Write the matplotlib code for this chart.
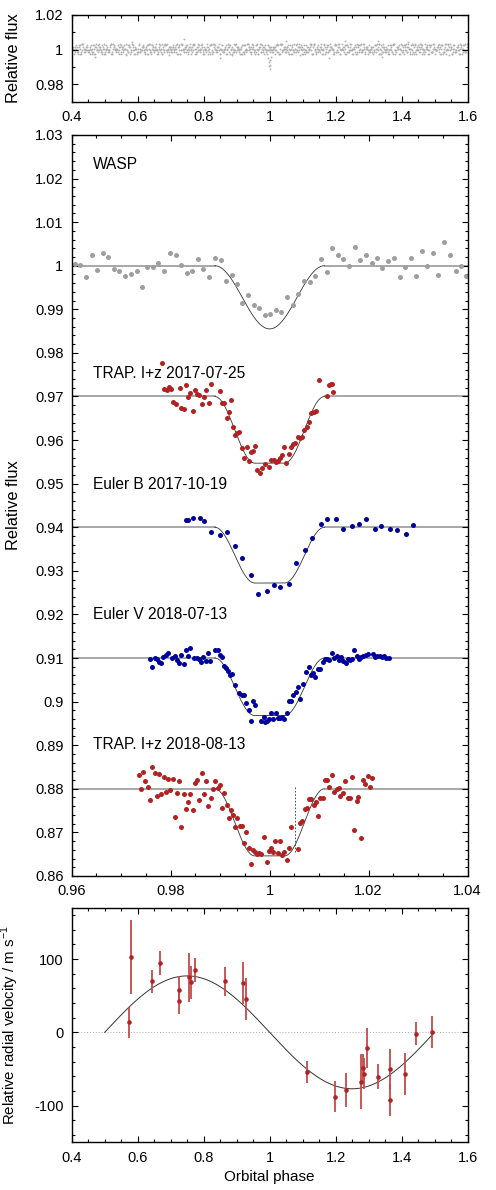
import matplotlib
matplotlib.use("Agg")
import matplotlib.pyplot as plt
import numpy as np
from matplotlib.ticker import MultipleLocator, FuncFormatter

# ---- top panel: full WASP light curve, flux coded as digits (1 + (d-4.5)*0.00095)
wasp_full_a = ("453625463742536475263546285436745136472553462574364528364751"
               "364527453626547384526345728364543726514365273546284356372546"
               "536472845362473546127435628453645273654836254736452736548364"
               "452736548363547246583746253847563452738546372548163547265438")
wasp_full_b = ("546372835446372546382547364528635472946335463728546437258346"
               "475362845736485263745462837465435267453864572384653725846374"
               "635482736545263748563465728364527364853746283574625384736254"
               "364758263452738465274638527364825374635247653827465346273845")
wasp_full_c = ("527463854637256483754638275463572463845273645283746254837465"
               "356842736458372645834627385462735482637452637485364728365473"
               "462735846372548364725364827354628374652738456273845627348563"
               "634582736452738462537465382746352864736548273654827364527384")
wasp_full_d = ("645372846354728364527348563742658374625384736452738465274836"
               "537264853742685374625837465382746537284635274863572846537246"
               "456372845637245836452738465273846534627385462738456273845627"
               "563748265374628357462835746253874652738465273846527364857362")
wasp_dip_phase = [0.9965, 0.9980, 0.9990, 1.0000, 1.0010, 1.0022, 1.0035]
wasp_dip_flux = [0.9950, 0.9930, 0.9905, 0.9890, 0.9912, 0.9938, 0.9958]
wasp_out_phase = [0.47, 0.74, 0.85, 1.05, 1.18, 1.23, 1.33, 1.34, 1.42]
wasp_out_flux = [0.9955, 1.0058, 0.9950, 1.0048, 0.9950, 1.0052, 1.0050, 0.9955, 1.0046]

# ---- middle panel: binned WASP
wasp_ph = [0.9606, 0.9617, 0.9628, 0.9640, 0.9651, 0.9663, 0.9674, 0.9685, 0.9696, 0.9708,
           0.9719, 0.9731, 0.9742, 0.9753, 0.9764, 0.9775, 0.9787, 0.9798, 0.9810, 0.9821,
           0.9832, 0.9843, 0.9855, 0.9866, 0.9878, 0.9889, 0.9901, 0.9911, 0.9923, 0.9934,
           0.9945, 0.9957, 0.9968, 0.9979, 0.9991, 1.0001, 1.0013, 1.0024, 1.0035, 1.0047,
           1.0058, 1.0069, 1.0081, 1.0092, 1.0104, 1.0115, 1.0126, 1.0138, 1.0149, 1.0161,
           1.0172, 1.0183, 1.0195, 1.0206, 1.0217, 1.0228, 1.0240, 1.0251, 1.0263, 1.0273,
           1.0285, 1.0296, 1.0308, 1.0319, 1.0330, 1.0341, 1.0353, 1.0364, 1.0376, 1.0387,
           1.0397]
wasp_fl = [1.0004, 1.0002, 0.9975, 1.0025, 0.9991, 1.0030, 1.0021, 0.9992, 0.9989, 0.9976,
           0.9982, 0.9988, 0.9952, 0.9996, 0.9998, 1.0006, 0.9989, 1.0030, 1.0024, 1.0002,
           0.9984, 0.9988, 1.0016, 0.9992, 0.9973, 1.0017, 1.0013, 0.9965, 0.9979, 0.9957,
           0.9914, 0.9933, 0.9909, 0.9904, 0.9886, 0.9890, 0.9898, 0.9893, 0.9929, 0.9911,
           0.9934, 0.9965, 0.9963, 0.9976, 1.0015, 0.9986, 1.0040, 1.0025, 1.0016, 0.9999,
           1.0044, 1.0012, 1.0024, 1.0007, 1.0018, 0.9994, 1.0010, 1.0018, 0.9974, 0.9997,
           1.0018, 0.9976, 1.0033, 1.0000, 1.0030, 0.9979, 1.0054, 1.0024, 0.9987, 1.0000,
           0.9976]

trap1_ph = [0.9782, 0.9787, 0.9792, 0.9796, 0.9800, 0.9804, 0.9811, 0.9818, 0.9821, 0.9826,
            0.9831, 0.9835, 0.9839, 0.9845, 0.9849, 0.9853, 0.9858, 0.9863, 0.9868, 0.9872,
            0.9877, 0.9881, 0.9899, 0.9903, 0.9908, 0.9913, 0.9917, 0.9922, 0.9926, 0.9931,
            0.9935, 0.9939, 0.9944, 0.9948, 0.9954, 0.9958, 0.9962, 0.9967, 0.9971, 0.9975,
            0.9981, 0.9985, 0.9990, 0.9998, 1.0003, 1.0008, 1.0013, 1.0017, 1.0021, 1.0025,
            1.0030, 1.0034, 1.0039, 1.0044, 1.0048, 1.0052, 1.0057, 1.0061, 1.0066, 1.0070,
            1.0075, 1.0079, 1.0084, 1.0089, 1.0093, 1.0099, 1.0116, 1.0121, 1.0124, 1.0126,
            1.0128]
trap1_fl = [0.9776, 0.9718, 0.9716, 0.9721, 0.9718, 0.9687, 0.9682, 0.9719, 0.9674, 0.9672,
            0.9726, 0.9699, 0.9708, 0.9666, 0.9715, 0.9705, 0.9704, 0.9682, 0.9699, 0.9714,
            0.9686, 0.9728, 0.9712, 0.9686, 0.9686, 0.9651, 0.9665, 0.9691, 0.9630, 0.9611,
            0.9616, 0.9618, 0.9581, 0.9559, 0.9584, 0.9553, 0.9573, 0.9575, 0.9587, 0.9531,
            0.9524, 0.9536, 0.9544, 0.9539, 0.9555, 0.9554, 0.9549, 0.9553, 0.9558, 0.9565,
            0.9585, 0.9547, 0.9568, 0.9583, 0.9590, 0.9594, 0.9608, 0.9605, 0.9607, 0.9623,
            0.9630, 0.9641, 0.9663, 0.9665, 0.9666, 0.9737, 0.9701, 0.9726, 0.9728, 0.9728,
            0.9711]

eulb_ph = [0.9831, 0.9835, 0.9845, 0.9859, 0.9868, 0.9881, 0.9899, 0.9913, 0.9931, 0.9944,
           0.9962, 0.9976, 0.9994, 1.0008, 1.0021, 1.0039, 1.0053, 1.0071, 1.0085, 1.0103,
           1.0116, 1.0135, 1.0148, 1.0167, 1.0180, 1.0194, 1.0212, 1.0226, 1.0243, 1.0257,
           1.0275, 1.0289]
eulb_fl = [0.9417, 0.9416, 0.9421, 0.9422, 0.9415, 0.9389, 0.9383, 0.9390, 0.9357, 0.9329,
           0.9291, 0.9246, 0.9253, 0.9268, 0.9263, 0.9270, 0.9317, 0.9347, 0.9376, 0.9408,
           0.9419, 0.9418, 0.9396, 0.9402, 0.9407, 0.9420, 0.9397, 0.9402, 0.9395, 0.9394,
           0.9384, 0.9405]

eulv_ph = [0.97583, 0.97631, 0.97685, 0.97732, 0.97772, 0.97813, 0.97853, 0.97900, 0.97947, 0.98035,
           0.98082, 0.98123, 0.98170, 0.98217, 0.98264, 0.98312, 0.98359, 0.98399, 0.98480, 0.98527,
           0.98574, 0.98615, 0.98662, 0.98709, 0.98756, 0.98804, 0.98891, 0.98952, 0.99006, 0.99046,
           0.99080, 0.99121, 0.99161, 0.99201, 0.99249, 0.99309, 0.99383, 0.99437, 0.99491, 0.99525,
           0.99579, 0.99626, 0.99660, 0.99714, 0.99822, 0.99882, 0.99909, 0.99950, 0.99997, 1.00031,
           1.00078, 1.00125, 1.00165, 1.00213, 1.00253, 1.00300, 1.00347, 1.00388, 1.00435, 1.00482,
           1.00529, 1.00570, 1.00617, 1.00671, 1.00745, 1.00786, 1.00833, 1.00880, 1.00920, 1.00974,
           1.01021, 1.01069, 1.01116, 1.01163, 1.01210, 1.01257, 1.01305, 1.01358, 1.01406, 1.01439,
           1.01487, 1.01534, 1.01581, 1.01628, 1.01675, 1.01709, 1.01756, 1.01797, 1.01844, 1.01891,
           1.01938, 1.01992, 1.02080, 1.02127, 1.02174, 1.02221, 1.02268, 1.02309, 1.02356, 1.02403]
eulv_fl = [0.90977, 0.90801, 0.90992, 0.90985, 0.90908, 0.90878, 0.91015, 0.91061, 0.91107, 0.90992,
           0.91046, 0.90954, 0.90893, 0.91069, 0.90870, 0.91176, 0.91046, 0.91229, 0.91000, 0.91000,
           0.90977, 0.90916, 0.91031, 0.90931, 0.91107, 0.90939, 0.91191, 0.91191, 0.91061, 0.91015,
           0.90816, 0.90771, 0.90709, 0.90618, 0.90633, 0.90381, 0.90197, 0.90159, 0.90159, 0.89960,
           0.89807, 0.89562, 0.90006, 0.89922, 0.89555, 0.89654, 0.89524, 0.89547, 0.89593, 0.89731,
           0.89601, 0.89731, 0.89616, 0.89616, 0.89647, 0.89593, 0.89731, 0.90006, 0.90021, 0.90159,
           0.90220, 0.90342, 0.90067, 0.90411, 0.90679, 0.90801, 0.90602, 0.90648, 0.90572, 0.90740,
           0.90755, 0.90908, 0.90969, 0.90969, 0.90962, 0.91107, 0.91008, 0.91046, 0.90962, 0.91015,
           0.90931, 0.90893, 0.90969, 0.90954, 0.90977, 0.91191, 0.91046, 0.90969, 0.91031, 0.91046,
           0.91077, 0.91100, 0.91084, 0.91031, 0.91046, 0.91038, 0.91015, 0.91046, 0.91000, 0.91008]

trap2_ph = [0.97361, 0.97401, 0.97449, 0.97489, 0.97543, 0.97583, 0.97631, 0.97678, 0.97725, 0.97765,
            0.97813, 0.97860, 0.97907, 0.97947, 0.97995, 0.98042, 0.98082, 0.98129, 0.98177, 0.98217,
            0.98264, 0.98311, 0.98359, 0.98399, 0.98446, 0.98493, 0.98541, 0.98581, 0.98628, 0.98675,
            0.98723, 0.98763, 0.98810, 0.98857, 0.98905, 0.98952, 0.98992, 0.99039, 0.99080, 0.99134,
            0.99174, 0.99228, 0.99269, 0.99309, 0.99349, 0.99410, 0.99444, 0.99491, 0.99531, 0.99579,
            0.99626, 0.99666, 0.99707, 0.99740, 0.99781, 0.99828, 0.99896, 0.99943, 0.99983, 1.00024,
            1.00078, 1.00118, 1.00165, 1.00213, 1.00253, 1.00293, 1.00347, 1.00388, 1.00435, 1.00583,
            1.00617, 1.00657, 1.00705, 1.00752, 1.00799, 1.00839, 1.00887, 1.00934, 1.00981, 1.01028,
            1.01075, 1.01122, 1.01163, 1.01210, 1.01251, 1.01298, 1.01352, 1.01399, 1.01426, 1.01473,
            1.01527, 1.01574, 1.01628, 1.01668, 1.01709, 1.01756, 1.01796, 1.01844, 1.01884, 1.01931,
            1.01979, 1.02026, 1.02066]
trap2_fl = [0.88321, 0.87992, 0.88390, 0.88168, 0.88046, 0.87740, 0.88505, 0.88352, 0.87839, 0.88329,
            0.87870, 0.88275, 0.87931, 0.88214, 0.87962, 0.88214, 0.87342, 0.87908, 0.88183, 0.87128,
            0.87878, 0.87526, 0.87702, 0.87870, 0.87511, 0.88122, 0.88206, 0.87732, 0.88367, 0.87878,
            0.88176, 0.87610, 0.87794, 0.87992, 0.88183, 0.88008, 0.88084, 0.87564, 0.87893, 0.87625,
            0.87335, 0.87511, 0.87396, 0.87128, 0.87319, 0.87151, 0.87144, 0.86754, 0.86998, 0.86631,
            0.86264, 0.86593, 0.86540, 0.86501, 0.86517, 0.86494, 0.86883, 0.86325, 0.86570, 0.86631,
            0.86540, 0.86799, 0.86517, 0.86799, 0.86478, 0.86555, 0.86363, 0.86631, 0.87113, 0.86608,
            0.87205, 0.87258, 0.87526, 0.87564, 0.87755, 0.87755, 0.87625, 0.87687, 0.87373, 0.87778,
            0.87794, 0.88199, 0.88199, 0.88031, 0.88321, 0.87916, 0.87985, 0.88008, 0.87832, 0.87893,
            0.88183, 0.87794, 0.87778, 0.88260, 0.87052, 0.87725, 0.87817, 0.86868, 0.88206, 0.88115,
            0.88291, 0.88038, 0.88237]

# labels / offsets / depths
labels = ["WASP", "TRAP. I+z 2017-07-25", "Euler B 2017-10-19", "Euler V 2018-07-13", "TRAP. I+z 2018-08-13"]
label_y = [1.0233, 0.9753, 0.9499, 0.9199, 0.8901]
offsets = [1.0, 0.97, 0.94, 0.91, 0.88]
depths = [0.0145, 0.0153, 0.0128, 0.0132, 0.0154]

# ---- bottom panel: radial velocities
rv_ph = [0.5736, 0.5807, 0.6443, 0.6686, 0.7241, 0.7262, 0.7555, 0.7625, 0.7747, 0.8656,
         0.9191, 0.9272, 1.1130, 1.1979, 1.2312, 1.2767, 1.2827, 1.2847, 1.2949, 1.3292,
         1.3646, 1.3646, 1.4100, 1.4423, 1.4928]
rv = [13.6, 102.7, 69.5, 95.0, 42.3, 58.2, 75.0, 68.2, 85.0, 69.5,
      67.3, 45.5, -54.1, -87.7, -79.1, -67.3, -49.1, -56.4, -21.4, -60.5,
      -50.0, -92.7, -56.8, -1.8, 0.5]
rv_err = [21.6, 50.5, 15.5, 16.4, 17.5, 18.6, 33.6, 22.7, 16.0, 19.5,
          28.4, 28.2, 14.8, 21.4, 23.0, 37.3, 19.3, 21.0, 27.0, 16.8,
          27.3, 22.0, 28.4, 16.0, 21.8]
K_rv = 77.0

T14 = 0.0111   # half duration
T23 = 0.0030   # half flat bottom

plt.rcParams['font.family'] = ['Liberation Sans', 'DejaVu Sans']
plt.rcParams['axes.unicode_minus'] = False
plt.rcParams['font.size'] = 10.5
plt.rcParams['mathtext.fontset'] = 'custom'
plt.rcParams['mathtext.rm'] = 'Liberation Sans'

red = '#b22222'
blue = '#00009c'
grey = '#9e9e9e'


def gfmt(v, pos):
    return '%g' % round(v, 6)


def style(ax, xmaj, xmin, ymaj, ymin):
    ax.xaxis.set_major_locator(MultipleLocator(xmaj))
    ax.xaxis.set_minor_locator(MultipleLocator(xmin))
    ax.yaxis.set_major_locator(MultipleLocator(ymaj))
    ax.yaxis.set_minor_locator(MultipleLocator(ymin))
    ax.xaxis.set_major_formatter(FuncFormatter(gfmt))
    ax.yaxis.set_major_formatter(FuncFormatter(gfmt))
    ax.tick_params(which='both', direction='in', top=True, right=True, width=0.8)
    ax.tick_params(which='major', length=4.5)
    ax.tick_params(which='minor', length=2.3)
    ax.tick_params(axis='x', pad=6, labelsize=10.5)
    ax.tick_params(axis='y', pad=6, labelsize=10.5)
    for s in ax.spines.values():
        s.set_linewidth(1.0)


def transit(ph, depth):
    x = np.abs(ph - 1.0)
    f = np.where(x <= T23, 1.0, 0.5 * (1 + np.cos(np.pi * (x - T23) / (T14 - T23))))
    f = np.where(x >= T14, 0.0, f)
    return -depth * f


def transit_bell(ph, depth):
    x = np.abs(ph - 1.0)
    f = np.where(x >= T14, 0.0, 0.5 * (1 + np.cos(np.pi * x / T14)))
    return -depth * f


fig = plt.figure(figsize=(4.96, 11.9), dpi=100)
ax1 = fig.add_axes([0.1446, 0.9145, 0.798, 0.0731])
ax2 = fig.add_axes([0.1446, 0.2639, 0.798, 0.6227])
ax3 = fig.add_axes([0.1446, 0.0401, 0.798, 0.1971])

# top panel
for k, s in enumerate([wasp_full_a, wasp_full_b, wasp_full_c, wasp_full_d]):
    d = np.array([int(c) for c in s])
    ph = np.linspace(0.4, 1.6, len(d)) + 0.00125 * k
    fl = 1 + (d - 4.5) * 0.00095
    ax1.scatter(ph, fl, s=1.8, c='#b0b0b0', linewidths=0)
ax1.scatter(wasp_dip_phase, wasp_dip_flux, s=1.8, c='#b0b0b0', linewidths=0)
ax1.scatter(wasp_out_phase, wasp_out_flux, s=1.8, c='#b0b0b0', linewidths=0)
ax1.set_xlim(0.4, 1.6)
ax1.set_ylim(0.97, 1.02)
style(ax1, 0.2, 0.05, 0.02, 0.01)
ax1.set_ylabel('Relative flux', fontsize=11.8)
ax1.yaxis.set_label_coords(-0.127, 0.5)

# middle panel: models
ph_out_l = np.linspace(0.96, 1 - T14, 50)
ph_out_r = np.linspace(1 + T14, 1.04, 50)
ph_in = np.linspace(1 - T14, 1 + T14, 300)
for i, (off, dep) in enumerate(zip(offsets, depths)):
    ax2.plot(ph_out_l, np.full_like(ph_out_l, off), color='#a0a0a0', lw=1.3, zorder=1)
    ax2.plot(ph_out_r, np.full_like(ph_out_r, off), color='#a0a0a0', lw=1.3, zorder=1)
    model = transit_bell(ph_in, dep) if i == 0 else transit(ph_in, dep)
    ax2.plot(ph_in, off + model, color='#333333', lw=0.6, zorder=1)

ax2.plot(wasp_ph, wasp_fl, 'o', ms=3.6, mew=0, color=grey, zorder=2)
ax2.plot(trap1_ph, trap1_fl, 'o', ms=3.6, mew=0, color=red, zorder=2)
ax2.plot(eulb_ph, eulb_fl, 'o', ms=3.6, mew=0, color=blue, zorder=2)
ax2.plot(eulv_ph, eulv_fl, 'o', ms=3.6, mew=0, color=blue, zorder=2)
ax2.plot(trap2_ph, trap2_fl, 'o', ms=3.6, mew=0, color=red, zorder=2)
ax2.plot([1.0052, 1.0052], [0.8655, 0.8803], color='#333333', lw=0.6, ls=(0, (2, 2)), zorder=1)

for lab, y in zip(labels, label_y):
    ax2.text(0.9643, y, lab, ha='left', va='center', fontsize=11.2)

ax2.set_xlim(0.96, 1.04)
ax2.set_ylim(0.86, 1.03)
style(ax2, 0.02, 0.005, 0.01, 0.002)
ax2.set_ylabel('Relative flux', fontsize=11.8)
ax2.yaxis.set_label_coords(-0.127, 0.5)

# bottom panel
ax3.axhline(0, color='#aaaaaa', lw=0.7, ls=(0, (1, 2)), zorder=0)
phm = np.linspace(0.5, 1.5, 400)
ax3.plot(phm, -K_rv * np.sin(2 * np.pi * (phm - 1.0)), color='#333333', lw=0.7, zorder=1)
ax3.errorbar(rv_ph, rv, yerr=rv_err, fmt='none', ecolor='#c44a4a', elinewidth=1.3, capsize=0, zorder=2)
ax3.plot(rv_ph, rv, 'o', ms=3.3, mew=0, color=red, zorder=3)
ax3.set_xlim(0.4, 1.6)
ax3.set_ylim(-150, 170)
style(ax3, 0.2, 0.05, 100, 20)
ax3.set_ylabel('Relative radial velocity / m s$^{-1}$', fontsize=10.8)
ax3.yaxis.set_label_coords(-0.128, 0.5)
ax3.set_xlabel('Orbital phase', fontsize=11)
ax3.xaxis.set_label_coords(0.5, -0.12)

fig.savefig('out.png', dpi=100)
